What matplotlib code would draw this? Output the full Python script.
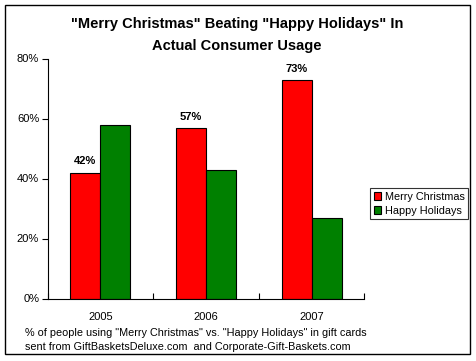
import numpy as np
import matplotlib
matplotlib.use('Agg')
import matplotlib.pyplot as plt
from matplotlib.patches import Rectangle

# data
years = ['2005', '2006', '2007']
merry = [42, 57, 73]
happy = [58, 43, 27]
merry_labels = ['42%', '57%', '73%']
yticks = [0, 20, 40, 60, 80]

plt.rcParams['font.family'] = ['Liberation Sans', 'DejaVu Sans']

W, H = 476, 361
fig = plt.figure(figsize=(W/100.0, H/100.0), dpi=100)

# outer frame around the whole chart
fig.patches.append(Rectangle((4.5/W, 1 - 353.5/H), 465/W, 349/H, transform=fig.transFigure,
                             fill=False, edgecolor='black', linewidth=1.0))

ax = fig.add_axes([47.5/W, 1 - 298.5/H, 317/W, 240/H])
x = np.arange(len(years))
w = 0.283
ax.bar(x - w/2, merry, w, color='#ff0000', edgecolor='black', linewidth=0.8, label='Merry Christmas')
ax.bar(x + w/2, happy, w, color='#008000', edgecolor='black', linewidth=0.8, label='Happy Holidays')

for xi, v, s in zip(x, merry, merry_labels):
    ax.text(xi - w/2, v + 2.0, s, ha='center', va='bottom', fontsize=8, fontweight='bold')

ax.set_xlim(-0.5, len(years) - 0.5)
ax.set_ylim(0, 80)
ax.set_yticks(yticks)
ax.set_yticklabels(['%d%%' % t for t in yticks], fontsize=8)
ax.set_xticks(x)
ax.set_xticklabels(years, fontsize=8)
ax.set_xticks([-0.5, 0.5, 1.5, 2.5], minor=True)
ax.tick_params(axis='x', which='major', length=0, pad=10)
ax.tick_params(axis='x', which='minor', length=4, direction='in', width=0.8)
ax.tick_params(axis='y', length=4, direction='out', width=0.8, pad=2)
for side in ['top', 'right']:
    ax.spines[side].set_visible(False)
ax.spines['left'].set_linewidth(0.8)
ax.spines['bottom'].set_linewidth(0.8)

leg = ax.legend(loc='upper left', bbox_to_anchor=(370/W, 1 - 188/H), bbox_transform=fig.transFigure,
                fontsize=7.8, frameon=True, fancybox=False, handlelength=0.7, handleheight=0.7,
                handletextpad=0.3, borderpad=0.35, labelspacing=0.35, borderaxespad=0)
leg.get_frame().set_edgecolor('black')
leg.get_frame().set_linewidth(0.8)

fig.text(237/W, 1 - 24/H, '"Merry Christmas" Beating "Happy Holidays" In', ha='center', va='center',
         fontsize=10.5, fontweight='bold')
fig.text(237/W, 1 - 46/H, 'Actual Consumer Usage', ha='center', va='center',
         fontsize=10.5, fontweight='bold')

fig.text(25/W, 1 - 333/H, '% of people using "Merry Christmas" vs. "Happy Holidays" in gift cards',
         ha='left', va='center', fontsize=7.8)
fig.text(25/W, 1 - 347/H, 'sent from GiftBasketsDeluxe.com  and Corporate-Gift-Baskets.com',
         ha='left', va='center', fontsize=7.8)

fig.savefig('out.png', dpi=100, facecolor='white')
